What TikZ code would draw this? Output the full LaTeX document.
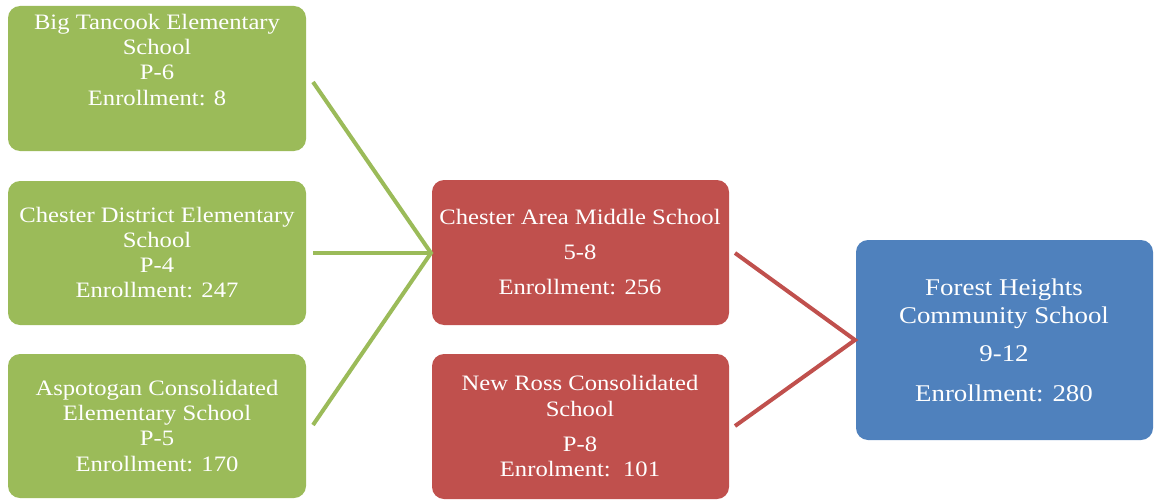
\documentclass[tikz,border=0pt]{standalone}
\usepackage{fontspec}
\setmainfont{Liberation Serif}[FakeStretch=1.12]
\begin{document}
\begin{tikzpicture}[x=1pt,y=-1pt,
  box/.style={draw=none,rounded corners=12pt,minimum width=298pt,inner sep=0pt},
  gbox/.style={box,fill=gbg},
  rbox/.style={box,fill=rbg},
  bbox/.style={box,fill=bbg},
  ln/.style={anchor=base,inner sep=0pt,text=white,font=\fontsize{22}{25}\selectfont},
  bln/.style={ln,font=\fontsize{24}{28}\selectfont},
  gline/.style={draw=gbg,line width=4pt},
  rline/.style={draw=rbg,line width=4pt}]
\definecolor{gbg}{HTML}{9BBB59}
\definecolor{rbg}{HTML}{C0504D}
\definecolor{bbg}{HTML}{4F81BD}
\useasboundingbox (0,0) rectangle (1155,500);
% boxes
\node[gbox,minimum height=145pt] (g1) at (157,78.5) {};
\node[gbox,minimum height=144pt] (g2) at (157,253) {};
\node[gbox,minimum height=144pt] (g3) at (157,426) {};
\node[rbox,minimum height=145pt,minimum width=297pt] (r1) at (580.5,252.5) {};
\node[rbox,minimum height=145pt,minimum width=297pt] (r2) at (580.5,426.5) {};
\node[bbox,minimum height=200pt,minimum width=297pt] (b) at (1004.5,340) {};
% connectors
\coordinate (g1e) at (313,82);
\coordinate (g2e) at (313,253);
\coordinate (g3e) at (313,425);
\coordinate (r1e) at (735,253);
\coordinate (r2e) at (735,426);
\coordinate (rj) at (431,253);
\coordinate (bj) at (855,340);
\draw[gline,line join=miter] (g1e) -- (rj) -- (g3e);
\draw[gline] (g2e) -- (rj);
\draw[rline,line join=miter] (r1e) -- (bj) -- (r2e);
% texts
\node[ln] (g1a) at (157,30) {Big Tancook Elementary};
\node[ln] (g1b) at (157,55) {School};
\node[ln] (g1c) at (157,80) {P-6};
\node[ln] (g1d) at (157,106) {Enrollment: 8};
\node[ln] (g2a) at (157,222) {Chester District Elementary};
\node[ln] (g2b) at (157,247) {School};
\node[ln] (g2c) at (157,272) {P-4};
\node[ln] (g2d) at (157,297) {Enrollment: 247};
\node[ln] (g3a) at (157,395) {Aspotogan Consolidated};
\node[ln] (g3b) at (157,420) {Elementary School};
\node[ln] (g3c) at (157,445) {P-5};
\node[ln] (g3d) at (157,471) {Enrollment: 170};
\node[ln] (r1a) at (580,224) {Chester Area Middle School};
\node[ln] (r1b) at (580,259) {5-8};
\node[ln] (r1c) at (580,294) {Enrollment: 256};
\node[ln] (r2a) at (580,390) {New Ross Consolidated};
\node[ln] (r2b) at (580,416) {School};
\node[ln] (r2c) at (580,451) {P-8};
\node[ln] (r2d) at (580,476) {Enrolment:\ \ 101};
\node[bln] (ba) at (1004,295) {Forest Heights};
\node[bln] (bb) at (1004,323) {Community School};
\node[bln] (bc) at (1004,361) {9-12};
\node[bln] (bd) at (1004,401) {Enrollment: 280};
\end{tikzpicture}
\end{document}
